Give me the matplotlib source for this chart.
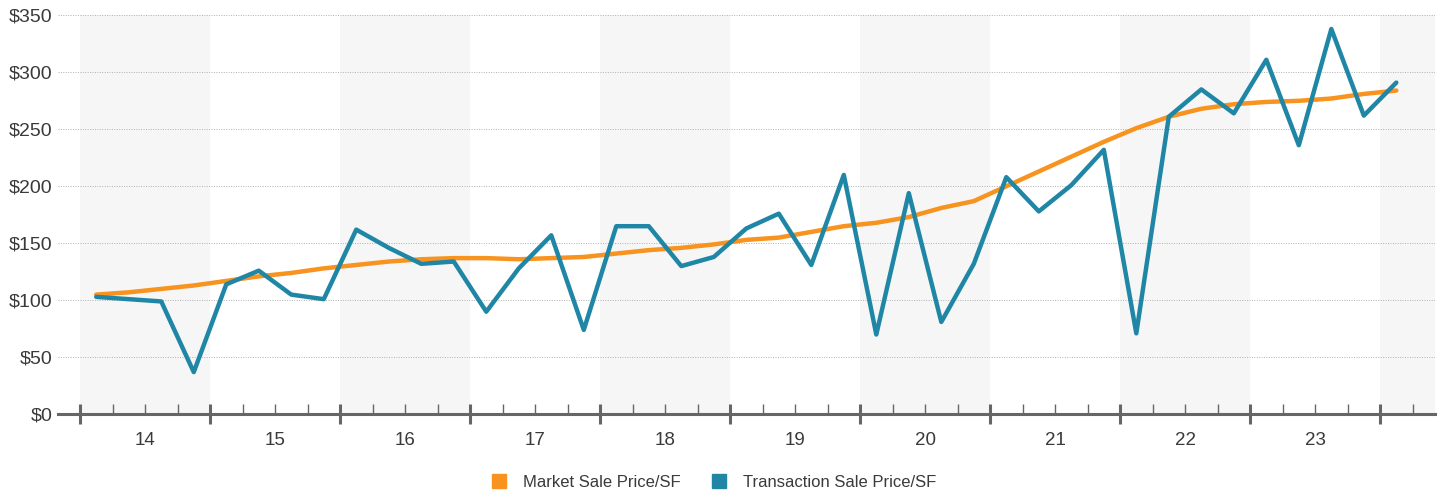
import matplotlib.pyplot as plt
from matplotlib.lines import Line2D
from matplotlib.ticker import FuncFormatter

plt.rcParams["font.family"] = ["Liberation Sans", "DejaVu Sans"]

# quarterly data, 2014 Q1 .. 2024 Q1
years = ["14", "15", "16", "17", "18", "19", "20", "21", "22", "23"]
market = [105, 107, 110, 113, 117, 121, 124, 128, 131, 134, 136, 137,
          137, 136, 137, 138, 141, 144, 146, 149, 153, 155, 160, 165,
          168, 173, 181, 187, 200, 213, 226, 239, 251, 261, 268, 272,
          274, 275, 277, 281, 284]
transaction = [103, 101, 99, 37, 114, 126, 105, 101, 162, 146, 132, 134,
               90, 128, 157, 74, 165, 165, 130, 138, 163, 176, 131, 210,
               70, 194, 81, 132, 208, 178, 201, 232, 71, 261, 285, 264,
               311, 236, 338, 262, 291]

orange = "#f7931e"
blue = "#1f87a5"

fig = plt.figure(figsize=(14.42, 4.94), dpi=100)
ax = fig.add_axes([58 / 1442, (494 - 414.3) / 494, (1435 - 58) / 1442, 399 / 494])

n = len(market)
xs = [i + 0.5 for i in range(n)]
ax.set_xlim(-0.677, 41.69)
ax.set_ylim(0, 350)

# alternating year bands
for k in range(0, 11, 2):
    ax.axvspan(4 * k, min(4 * k + 4, 41.69), color="#f6f6f6", zorder=0, lw=0)

ax.plot(xs, market, color=orange, lw=3.2, zorder=3, solid_capstyle="round")
ax.plot(xs, transaction, color=blue, lw=3.2, zorder=4, solid_capstyle="round")

ax.set_yticks(range(0, 351, 50))
ax.yaxis.set_major_formatter(FuncFormatter(lambda v, p: "${:d}".format(int(v))))
ax.yaxis.grid(True, linestyle=(0, (1, 1.5)), color="#b0b0b0", lw=0.7)
ax.set_axisbelow(True)
ax.tick_params(axis="y", length=0, pad=4, labelsize=14, labelcolor="#3a3a3a")

for s in ["top", "right", "left"]:
    ax.spines[s].set_visible(False)
ax.spines["bottom"].set_color("#666666")
ax.spines["bottom"].set_linewidth(2.2)
ax.spines["bottom"].set_zorder(5)

major = list(range(0, 41, 4))
minor = [q for q in range(0, 42) if q % 4 != 0]
ax.set_xticks(major)
ax.set_xticklabels([""] * len(major))
ax.set_xticks(minor, minor=True)
ax.set_xticklabels([years[q // 4] if q % 4 == 2 and q // 4 < len(years) else "" for q in minor],
                   minor=True)
ax.tick_params(axis="x", which="major", direction="inout", length=14, width=2.2, color="#666666")
ax.tick_params(axis="x", which="minor", direction="in", length=7, width=1, color="#666666",
               pad=13, labelsize=13.5, labelcolor="#3a3a3a")

handles = [Line2D([], [], ls="none", marker="s", ms=10.5, color=orange),
           Line2D([], [], ls="none", marker="s", ms=10.5, color=blue)]
fig.legend(handles, ["Market Sale Price/SF", "Transaction Sale Price/SF"],
           loc="center", bbox_to_anchor=(714 / 1442, 1 - 482 / 494), ncol=2, frameon=False,
           fontsize=12, labelcolor="#3a3a3a", handlelength=0.9, handletextpad=1.0,
           columnspacing=1.85)

fig.savefig("out.png", dpi=100)
